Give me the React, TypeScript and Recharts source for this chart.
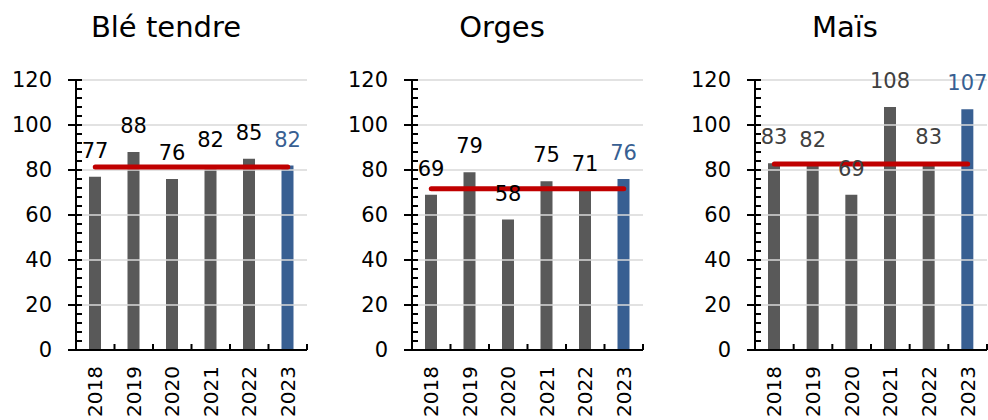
import React from "react";
import { ComposedChart, Bar, Line, XAxis, YAxis, Cell, LabelList, ReferenceLine } from "recharts";

const years = ["2018", "2019", "2020", "2021", "2022", "2023"];
const bleValues = [77, 88, 76, 82, 85, 82];
const orgesValues = [69, 79, 58, 75, 71, 76];
const maisValues = [83, 82, 69, 108, 83, 107];
// moyenne olympique 2018-2022
const averages = [81.3, 71.7, 82.7];
const titles = ["Blé tendre", "Orges", "Maïs"];
const yTicks = [0, 4, 8, 12, 16, 20, 24, 28, 32, 36, 40, 44, 48, 52, 56, 60, 64, 68, 72, 76, 80, 84, 88, 92, 96, 100, 104, 108, 112, 116, 120];
const gridValues = [20, 40, 60, 80, 100, 120];

const FONT = "'DejaVu Sans', sans-serif";
const GREY = "#595959";
const BLUE = "#385f92";
const RED = "#c00000";

interface PanelProps {
  title: string;
  values: number[];
  avg: number;
  left: number;
  width: number;
  plotLeft: number;
  plotRight: number;
  titleX: number;
  labelColor: string;
}

function Panel({ title, values, avg, left, width, plotLeft, plotRight, titleX, labelColor }: PanelProps) {
  const data = years.map((year, i) => ({ year, value: values[i], avg }));
  const top = 80;
  const bottom = 350;
  const bw = (plotRight - plotLeft) / years.length;

  const YTick = (props: any) => {
    const v = props.payload.value;
    const y = props.y;
    const major = v % 20 === 0;
    return (
      <g>
        <line x1={major ? plotLeft - 8 : plotLeft} x2={plotLeft + 6} y1={y} y2={y} stroke="#000" strokeWidth={2} />
        {major && (
          <text x={plotLeft - 24} y={y} textAnchor="end" dominantBaseline="central" fontSize={21} fontFamily={FONT} fill="#000">
            {v}
          </text>
        )}
      </g>
    );
  };

  const XTick = (props: any) => {
    const x = props.x;
    return (
      <g>
        <line x1={x + bw / 2} x2={x + bw / 2} y1={bottom} y2={bottom - 6} stroke="#000" strokeWidth={2} />
        <text
          transform={`translate(${x},${bottom + 16}) rotate(-90)`}
          textAnchor="end"
          dominantBaseline="central"
          fontSize={20}
          fontFamily={FONT}
          fill="#000"
        >
          {props.payload.value}
        </text>
      </g>
    );
  };

  const renderLabel = (props: any) => {
    const { x, y, width: w, value, index } = props;
    return (
      <text
        x={x + w / 2}
        y={y - 26}
        textAnchor="middle"
        dominantBaseline="central"
        fontSize={21}
        fontFamily={FONT}
        fill={index === years.length - 1 ? BLUE : labelColor}
      >
        {value}
      </text>
    );
  };

  return (
    <div style={{ position: "absolute", left, top: 0 }}>
      <svg width={width} height={60} style={{ position: "absolute", left: 0, top: 0 }}>
        <text x={titleX} y={37} textAnchor="middle" fontSize={29} fontFamily={FONT} fill="#000">
          {title}
        </text>
      </svg>
      <ComposedChart width={width} height={420} data={data} margin={{ top, right: width - plotRight, left: 0, bottom: 0 }}>
        {gridValues.map((g) => (
          <ReferenceLine key={g} y={g} stroke="#d9d9d9" strokeWidth={1.5} />
        ))}
        <XAxis
          dataKey="year"
          height={420 - bottom}
          axisLine={{ stroke: "#000", strokeWidth: 2 }}
          tickLine={false}
          tick={<XTick />}
          interval={0}
        />
        <YAxis
          width={plotLeft}
          domain={[0, 120]}
          ticks={yTicks}
          interval={0}
          axisLine={{ stroke: "#000", strokeWidth: 2 }}
          tickLine={false}
          tick={<YTick />}
        />
        <Bar dataKey="value" barSize={12} isAnimationActive={false}>
          {data.map((d, i) => (
            <Cell key={d.year} fill={i === years.length - 1 ? BLUE : GREY} />
          ))}
          <LabelList dataKey="value" content={renderLabel} />
        </Bar>
        <Line
          dataKey="avg"
          stroke={RED}
          strokeWidth={5}
          strokeLinecap="round"
          dot={false}
          activeDot={false}
          isAnimationActive={false}
        />
      </ComposedChart>
    </div>
  );
}

export default function App() {
  return (
    <div style={{ position: "absolute", left: 0, top: 0, width: 988, height: 420, background: "#fff", overflow: "hidden" }}>
      <Panel title={titles[0]} values={bleValues} avg={averages[0]} left={0} width={330} plotLeft={76} plotRight={307} titleX={166} labelColor="#000" />
      <Panel title={titles[1]} values={orgesValues} avg={averages[1]} left={330} width={330} plotLeft={82} plotRight={313} titleX={172} labelColor="#000" />
      <Panel title={titles[2]} values={maisValues} avg={averages[2]} left={660} width={328} plotLeft={95} plotRight={327} titleX={185} labelColor="#404040" />
    </div>
  );
}
